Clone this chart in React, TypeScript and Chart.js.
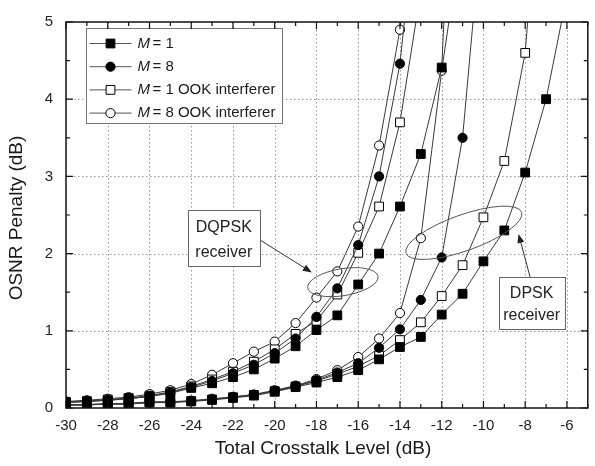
import React, { useEffect, useRef } from "react";
import { Chart, registerables } from "chart.js";

Chart.register(...registerables);

// ---------------- data ----------------
const crosstalkDb = [-30, -29, -28, -27, -26, -25, -24, -23, -22, -21, -20, -19, -18, -17, -16, -15, -14, -13, -12, -11, -10, -9, -8, -7, -6];

// DQPSK receiver curves (penalty in dB, starting at -30 dB)
const dqpskM1 = [0.07, 0.08, 0.1, 0.12, 0.15, 0.19, 0.26, 0.32, 0.4, 0.5, 0.64, 0.8, 1.01, 1.2, 1.6, 2.0, 2.61, 3.29, 4.41, 10.0];
const dqpskM8 = [0.075, 0.09, 0.1, 0.12, 0.15, 0.2, 0.27, 0.35, 0.45, 0.56, 0.71, 0.9, 1.18, 1.55, 2.11, 3.0, 4.46, 7.0];
const dqpskM1Ook = [0.08, 0.09, 0.11, 0.13, 0.16, 0.21, 0.28, 0.37, 0.47, 0.6, 0.76, 0.96, 1.13, 1.47, 2.01, 2.61, 3.7, 5.4];
const dqpskM8Ook = [0.085, 0.1, 0.12, 0.14, 0.18, 0.23, 0.31, 0.43, 0.58, 0.73, 0.86, 1.1, 1.43, 1.77, 2.35, 3.4, 4.9, 7.0];

// DPSK receiver curves
const dpskM1 = [0.035, 0.04, 0.05, 0.05, 0.07, 0.07, 0.085, 0.105, 0.13, 0.16, 0.21, 0.27, 0.33, 0.4, 0.49, 0.63, 0.79, 0.92, 1.21, 1.48, 1.9, 2.3, 3.05, 4.0, 5.35];
const dpskM8 = [0.04, 0.04, 0.05, 0.055, 0.07, 0.075, 0.09, 0.11, 0.14, 0.17, 0.22, 0.28, 0.36, 0.46, 0.58, 0.78, 1.02, 1.4, 1.95, 3.5, 6.5];
const dpskM1Ook = [0.04, 0.045, 0.055, 0.055, 0.075, 0.075, 0.09, 0.11, 0.14, 0.17, 0.22, 0.28, 0.35, 0.44, 0.54, 0.68, 0.88, 1.11, 1.45, 1.85, 2.47, 3.2, 4.6, 8.0];
const dpskM8Ook = [0.045, 0.045, 0.055, 0.06, 0.08, 0.08, 0.095, 0.12, 0.145, 0.175, 0.23, 0.29, 0.375, 0.49, 0.66, 0.9, 1.23, 2.2, 4.37, 6.2];

const legendSuffixes = ["= 1", "= 8", "= 1 OOK interferer", "= 8 OOK interferer"];
const xTitle = "Total Crosstalk Level (dB)";
const yTitle = "OSNR Penalty (dB)";

// annotations (data units)
const annotationBoxes = [
  { x1: -24.16, x2: -20.72, y1: 2.561, y2: 1.833, cx: -22.44, lines: ["DQPSK", "receiver"], lineY: [2.331, 2.012] },
  { x1: -9.27, x2: -6.11, y1: 1.692, y2: 1.027, cx: -7.69, lines: ["DPSK", "receiver"], lineY: [1.487, 1.193] },
];
const annotationEllipses = [
  { ax: -18.42, ay: 1.555, bx: -15.05, by: 1.705, minor: 13.5 },
  { ax: -13.71, ay: 2.003, bx: -8.17, by: 2.536, minor: 18 },
];
const annotationArrows = [
  { fx: -20.72, fy: 2.179, tx: -18.22, ty: 1.756 },
  { fx: -7.76, fy: 1.692, tx: -8.32, ty: 2.255 },
];

// ---------------- styles ----------------
const FONT = "'Liberation Sans', Arial, Helvetica, sans-serif";
const seriesStyles = [
  { shape: "rect", fill: "#000000" },
  { shape: "circle", fill: "#000000" },
  { shape: "rect", fill: "#ffffff" },
  { shape: "circle", fill: "#ffffff" },
];
const CIRCLE_R = 4.6;
const RECT_R = 6.2;

function toPoints(values: number[]) {
  return values.map((v, i) => ({ x: crosstalkDb[i], y: v }));
}

function drawMarker(ctx: CanvasRenderingContext2D, shape: string, fill: string, x: number, y: number) {
  ctx.save();
  ctx.fillStyle = fill;
  ctx.strokeStyle = "#000";
  ctx.lineWidth = 1;
  ctx.beginPath();
  if (shape === "circle") {
    ctx.arc(x, y, CIRCLE_R, 0, Math.PI * 2);
  } else {
    const s = Math.SQRT1_2 * RECT_R;
    ctx.rect(x - s, y - s, 2 * s, 2 * s);
  }
  ctx.fill();
  ctx.stroke();
  ctx.restore();
}

const decorPlugin = {
  id: "decor",
  beforeDatasetsDraw(chart: any) {
    const { ctx, chartArea } = chart;
    const x = chart.scales.x;
    const y = chart.scales.y;
    ctx.save();
    ctx.strokeStyle = "#999";
    ctx.lineWidth = 1;
    ctx.setLineDash([1.5, 2.5]);
    for (let v = x.min + 2; v < x.max; v += 2) {
      const px = Math.round(x.getPixelForValue(v)) + 0.5;
      ctx.beginPath();
      ctx.moveTo(px, chartArea.top);
      ctx.lineTo(px, chartArea.bottom);
      ctx.stroke();
    }
    for (let v = y.min + 1; v < y.max; v += 1) {
      const py = Math.round(y.getPixelForValue(v)) + 0.5;
      ctx.beginPath();
      ctx.moveTo(chartArea.left, py);
      ctx.lineTo(chartArea.right, py);
      ctx.stroke();
    }
    ctx.restore();
  },
  afterDatasetsDraw(chart: any) {
    const { ctx, chartArea } = chart;
    const x = chart.scales.x;
    const y = chart.scales.y;
    const X = (v: number) => x.getPixelForValue(v);
    const Y = (v: number) => y.getPixelForValue(v);
    ctx.save();

    // ellipses
    ctx.strokeStyle = "#555";
    ctx.lineWidth = 1;
    annotationEllipses.forEach((e) => {
      const ax = X(e.ax), ay = Y(e.ay), bx = X(e.bx), by = Y(e.by);
      const cx = (ax + bx) / 2, cy = (ay + by) / 2;
      const rx = Math.hypot(bx - ax, by - ay) / 2;
      const ang = Math.atan2(by - ay, bx - ax);
      ctx.beginPath();
      ctx.ellipse(cx, cy, rx, e.minor, ang, 0, Math.PI * 2);
      ctx.stroke();
    });

    // arrows
    annotationArrows.forEach((a) => {
      const fx = X(a.fx), fy = Y(a.fy), tx = X(a.tx), ty = Y(a.ty);
      const ang = Math.atan2(ty - fy, tx - fx);
      const L = 9, W = 3.5;
      ctx.strokeStyle = "#333";
      ctx.lineWidth = 1;
      ctx.beginPath();
      ctx.moveTo(fx, fy);
      ctx.lineTo(tx - Math.cos(ang) * L * 0.8, ty - Math.sin(ang) * L * 0.8);
      ctx.stroke();
      ctx.fillStyle = "#222";
      ctx.beginPath();
      ctx.moveTo(tx, ty);
      ctx.lineTo(tx - Math.cos(ang) * L - Math.sin(ang) * W, ty - Math.sin(ang) * L + Math.cos(ang) * W);
      ctx.lineTo(tx - Math.cos(ang) * L + Math.sin(ang) * W, ty - Math.sin(ang) * L - Math.cos(ang) * W);
      ctx.closePath();
      ctx.fill();
    });

    // boxes
    annotationBoxes.forEach((b) => {
      const x1 = Math.round(X(b.x1)) + 0.5, x2 = Math.round(X(b.x2)) + 0.5;
      const y1 = Math.round(Y(b.y1)) + 0.5, y2 = Math.round(Y(b.y2)) + 0.5;
      ctx.fillStyle = "#fff";
      ctx.fillRect(x1, y1, x2 - x1, y2 - y1);
      ctx.strokeStyle = "#666";
      ctx.lineWidth = 1;
      ctx.strokeRect(x1, y1, x2 - x1, y2 - y1);
      ctx.fillStyle = "#222";
      ctx.font = `16px ${FONT}`;
      ctx.textAlign = "center";
      ctx.textBaseline = "middle";
      b.lines.forEach((t, i) => ctx.fillText(t, X(b.cx), Y(b.lineY[i])));
    });

    // legend
    const lx1 = 86.5, lx2 = 282.5, ly1 = 28.5, ly2 = 123.5;
    ctx.fillStyle = "#fff";
    ctx.fillRect(lx1, ly1, lx2 - lx1, ly2 - ly1);
    ctx.strokeStyle = "#777";
    ctx.lineWidth = 1;
    ctx.strokeRect(lx1, ly1, lx2 - lx1, ly2 - ly1);
    legendSuffixes.forEach((suffix, i) => {
      const ry = 43.5 + i * 23.2;
      ctx.strokeStyle = "#555";
      ctx.lineWidth = 1;
      ctx.beginPath();
      ctx.moveTo(89.5, ry);
      ctx.lineTo(131.5, ry);
      ctx.stroke();
      drawMarker(ctx, seriesStyles[i].shape, seriesStyles[i].fill, 110.5, ry);
      ctx.fillStyle = "#1a1a1a";
      ctx.textAlign = "left";
      ctx.textBaseline = "middle";
      ctx.font = `italic 15px ${FONT}`;
      ctx.fillText("M", 137.5, ry);
      const wm = ctx.measureText("M").width;
      ctx.font = `15px ${FONT}`;
      ctx.fillText(suffix, 137.5 + wm + 2.5, ry);
    });

    // frame
    ctx.strokeStyle = "#111";
    ctx.lineWidth = 1.5;
    ctx.strokeRect(chartArea.left, chartArea.top, chartArea.right - chartArea.left, chartArea.bottom - chartArea.top);

    // inward ticks
    ctx.lineWidth = 1.2;
    for (let v = x.min; v <= x.max; v += 1) {
      const px = X(v);
      const len = Math.round(v) % 2 === 0 ? 7 : 4;
      ctx.beginPath();
      ctx.moveTo(px, chartArea.bottom);
      ctx.lineTo(px, chartArea.bottom - len);
      ctx.moveTo(px, chartArea.top);
      ctx.lineTo(px, chartArea.top + len);
      ctx.stroke();
    }
    for (let v = y.min; v <= y.max + 1e-9; v += 0.5) {
      const py = Y(v);
      const len = Math.abs(v - Math.round(v)) < 1e-6 ? 7 : 4;
      ctx.beginPath();
      ctx.moveTo(chartArea.left, py);
      ctx.lineTo(chartArea.left + len, py);
      ctx.moveTo(chartArea.right, py);
      ctx.lineTo(chartArea.right - len, py);
      ctx.stroke();
    }

    // axis titles
    ctx.fillStyle = "#1a1a1a";
    ctx.font = `19px ${FONT}`;
    ctx.textAlign = "center";
    ctx.textBaseline = "middle";
    ctx.fillText(xTitle, 323, 449);
    ctx.save();
    ctx.translate(17, 218);
    ctx.rotate(-Math.PI / 2);
    ctx.fillText(yTitle, 0, 0);
    ctx.restore();

    ctx.restore();
  },
};

export default function App() {
  const canvasRef = useRef<HTMLCanvasElement | null>(null);

  useEffect(() => {
    if (!canvasRef.current) return;
    const seriesData = [
      { values: dqpskM1, style: 0 },
      { values: dqpskM8, style: 1 },
      { values: dqpskM1Ook, style: 2 },
      { values: dqpskM8Ook, style: 3 },
      { values: dpskM1, style: 0 },
      { values: dpskM8, style: 1 },
      { values: dpskM1Ook, style: 2 },
      { values: dpskM8Ook, style: 3 },
    ];
    const datasets = seriesData.map((s) => {
      const st = seriesStyles[s.style];
      return {
        data: toPoints(s.values),
        borderColor: "#3a3a3a",
        borderWidth: 1,
        tension: 0,
        fill: false,
        pointStyle: st.shape,
        pointRadius: st.shape === "circle" ? CIRCLE_R : RECT_R,
        pointBackgroundColor: st.fill,
        pointBorderColor: "#000",
        pointBorderWidth: 1,
      };
    });

    const chart = new Chart(canvasRef.current, {
      type: "line",
      data: { datasets } as any,
      options: {
        animation: false,
        responsive: false,
        maintainAspectRatio: false,
        layout: { padding: { top: 17, right: -1.5, left: 0, bottom: 0 } },
        plugins: { legend: { display: false }, tooltip: { enabled: false } },
        scales: {
          x: {
            type: "linear",
            min: -30,
            max: -5,
            afterFit: (s: any) => {
              s.height = 58;
            },
            grid: { display: false, drawTicks: false, tickLength: 0 },
            border: { display: false },
            ticks: {
              stepSize: 2,
              includeBounds: false,
              padding: 9,
              color: "#222",
              maxRotation: 0,
              autoSkip: false,
              font: { family: FONT, size: 15 },
              callback: (v: any) => String(v),
            },
          },
          y: {
            type: "linear",
            min: 0,
            max: 5,
            afterFit: (s: any) => {
              s.width = 66;
            },
            grid: { display: false, drawTicks: false, tickLength: 0 },
            border: { display: false },
            ticks: {
              stepSize: 1,
              padding: 13,
              color: "#222",
              font: { family: FONT, size: 15 },
              callback: (v: any) => String(v),
            },
          },
        },
      } as any,
      plugins: [decorPlugin as any],
    });
    return () => chart.destroy();
  }, []);

  return (
    <div style={{ position: "fixed", left: 0, top: 0, width: 595, height: 466, background: "#fff" }}>
      <canvas ref={canvasRef} width={595} height={466} style={{ display: "block" }} />
    </div>
  );
}
